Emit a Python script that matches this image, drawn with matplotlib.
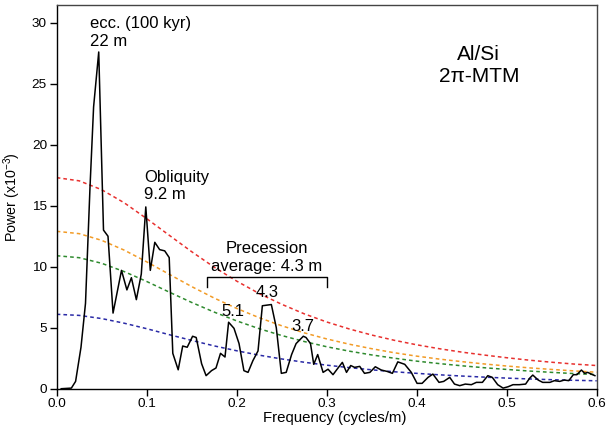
import matplotlib
matplotlib.use('Agg')
import matplotlib.pyplot as plt
import numpy as np

plt.rcParams['font.family'] = ['Liberation Sans', 'DejaVu Sans']
plt.rcParams['mathtext.fontset'] = 'custom'
plt.rcParams['mathtext.rm'] = 'Liberation Sans'
plt.rcParams['mathtext.it'] = 'Liberation Sans'
plt.rcParams['axes.unicode_minus'] = True

# MTM power spectrum (Al/Si)
freq = [0.005, 0.0163, 0.021, 0.027, 0.032, 0.037, 0.041, 0.0467, 0.052, 0.057,
        0.0626, 0.072, 0.078, 0.083, 0.0885, 0.094, 0.099, 0.104, 0.109, 0.1144,
        0.120, 0.125, 0.129, 0.135, 0.140, 0.145, 0.151, 0.155, 0.161, 0.166,
        0.172, 0.177, 0.182, 0.187, 0.191, 0.197, 0.2026, 0.208, 0.2126, 0.218,
        0.2237, 0.2285, 0.2385, 0.244, 0.2496, 0.255, 0.261, 0.266, 0.274, 0.277,
        0.282, 0.2856, 0.290, 0.296, 0.3015, 0.307, 0.3126, 0.3174, 0.322, 0.3267,
        0.331, 0.3367, 0.342, 0.348, 0.354, 0.3607, 0.367, 0.373, 0.379, 0.3867,
        0.394, 0.4004, 0.406, 0.4126, 0.418, 0.4248, 0.430, 0.4367, 0.442, 0.4478,
        0.454, 0.4607, 0.4663, 0.473, 0.479, 0.484, 0.490, 0.496, 0.5015, 0.507,
        0.514, 0.521, 0.5256, 0.529, 0.535, 0.540, 0.548, 0.553, 0.559, 0.564,
        0.569, 0.574, 0.578, 0.583, 0.5867, 0.590, 0.594, 0.598]
power = [0.0, 0.05, 0.6, 3.4, 7.0, 16.5, 23.1, 27.6, 13.0, 12.5,
         6.2, 9.7, 8.1, 9.1, 7.3, 9.4, 14.9, 9.7, 12.0, 11.4,
         11.3, 10.75, 2.9, 1.55, 3.5, 3.4, 4.3, 4.2, 2.05, 1.07,
         1.48, 1.7, 2.9, 2.6, 5.45, 4.95, 3.7, 1.48, 1.34, 2.3,
         3.1, 6.8, 6.9, 5.0, 1.26, 1.34, 2.8, 3.7, 4.3, 4.2,
         3.7, 2.0, 2.8, 1.34, 1.6, 1.15, 1.7, 2.16, 1.34, 1.9,
         1.75, 1.83, 1.26, 1.34, 1.8, 1.53, 1.42, 1.26, 2.2, 2.0,
         1.34, 0.44, 0.44, 0.93, 1.2, 0.52, 0.6, 0.93, 0.38, 0.25,
         0.38, 0.33, 0.52, 0.52, 1.07, 0.93, 0.33, 0.05, 0.16, 0.33,
         0.33, 0.38, 0.87, 1.12, 0.71, 0.52, 0.52, 0.66, 0.6, 0.71,
         0.66, 1.15, 1.15, 1.53, 1.26, 1.34, 1.2, 1.07]

# confidence levels (red noise background), read every 0.025
conf_freq = [0.0, 0.025, 0.05, 0.075, 0.1, 0.125, 0.15, 0.175, 0.2, 0.225, 0.25, 0.275,
             0.3, 0.325, 0.35, 0.375, 0.4, 0.425, 0.45, 0.475, 0.5, 0.525, 0.55, 0.575, 0.6]
conf_red = [17.3, 17.04, 16.31, 15.24, 13.94, 12.58, 11.23, 9.96, 8.82, 7.80, 6.92, 6.14,
            5.47, 4.90, 4.40, 3.97, 3.60, 3.28, 3.00, 2.76, 2.54, 2.34, 2.17, 2.02, 1.9]
conf_orange = [12.9, 12.71, 12.16, 11.36, 10.40, 9.38, 8.37, 7.43, 6.58, 5.82, 5.16, 4.58,
               4.08, 3.65, 3.28, 2.95, 2.67, 2.43, 2.22, 2.03, 1.86, 1.71, 1.58, 1.46, 1.35]
conf_green = [10.9, 10.74, 10.28, 9.60, 8.79, 7.92, 7.07, 6.28, 5.56, 4.92, 4.36, 3.87,
              3.44, 3.08, 2.77, 2.50, 2.26, 2.06, 1.88, 1.72, 1.58, 1.45, 1.34, 1.24, 1.16]
conf_blue = [6.1, 6.01, 5.75, 5.37, 4.92, 4.43, 3.96, 3.51, 3.11, 2.75, 2.44, 2.17,
             1.93, 1.73, 1.55, 1.39, 1.26, 1.14, 1.04, 0.95, 0.87, 0.80, 0.74, 0.69, 0.65]

peak_labels = ['5.1', '4.3', '3.7']
peak_x = [0.1956, 0.234, 0.274]
peak_y = [6.37, 7.87, 5.08]

fig = plt.figure(figsize=(6.09, 4.29), dpi=100)
ax = fig.add_axes([0.0931, 0.0939, 0.8867, 0.8944])

dash = (2.4, 2.0)
ax.plot(conf_freq, conf_red, color='#e8302e', lw=1.1, dashes=dash)
ax.plot(conf_freq, conf_orange, color='#f29b26', lw=1.1, dashes=dash)
ax.plot(conf_freq, conf_green, color='#2e8a2e', lw=1.1, dashes=dash)
ax.plot(conf_freq, conf_blue, color='#2a2aa6', lw=1.1, dashes=dash)
ax.plot(freq, power, color='black', lw=1.1)

ax.set_xlim(0, 0.6)
ax.set_ylim(0, 31.45)
ax.set_xticks([0.0, 0.1, 0.2, 0.3, 0.4, 0.5, 0.6])
ax.set_yticks([0, 5, 10, 15, 20, 25, 30])
ax.xaxis.set_major_formatter(plt.FormatStrFormatter('%.1f'))
ax.tick_params(direction='out', length=5, width=1, labelsize=9.7, pad=2)
ax.set_xlabel('Frequency (cycles/m)', fontsize=10.8, labelpad=4)
ax.xaxis.set_label_coords(0.515, -0.058)
ax.set_ylabel('Power (x10$^{-3}$)', fontsize=10.3, labelpad=6)
for s in ax.spines.values():
    s.set_linewidth(1.0)
ax.spines['top'].set_color('#444444')
ax.spines['right'].set_color('#444444')

ax.text(0.037, 29.2, 'ecc. (100 kyr)\n22 m', fontsize=12, ha='left', va='center')
ax.text(0.097, 16.6, 'Obliquity\n9.2 m', fontsize=12, ha='left', va='center')
ax.text(0.233, 10.75, 'Precession\naverage: 4.3 m', fontsize=12, ha='center',
        va='center', multialignment='center')
ax.plot([0.1667, 0.1667, 0.3007, 0.3007], [8.31, 9.13, 9.13, 8.31], color='black', lw=1.0)
for lab, px, py in zip(peak_labels, peak_x, peak_y):
    ax.text(px, py, lab, fontsize=12, ha='center', va='center')
ax.text(0.469, 26.5, 'Al/Si\n2π-MTM', fontsize=15, ha='center', va='center',
        multialignment='center')

fig.savefig('out.png', dpi=100)
